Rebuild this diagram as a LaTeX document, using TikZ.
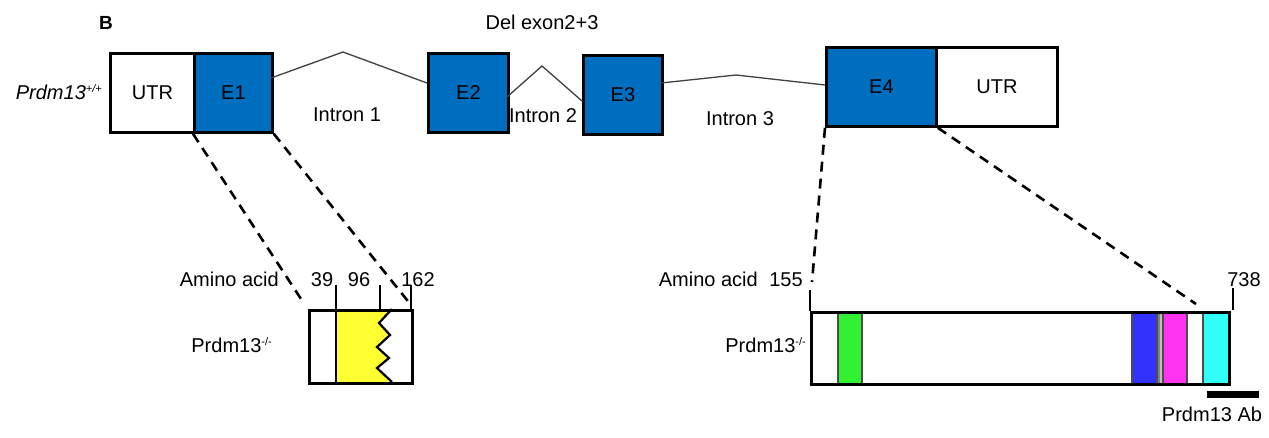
\documentclass[tikz,border=0pt]{standalone}
\usepackage{fontspec}
\setmainfont{Liberation Sans}
\definecolor{exblue}{RGB}{0,110,190}
\definecolor{zfgreen}{RGB}{50,240,50}
\definecolor{zfblue}{RGB}{50,50,255}
\definecolor{zfmag}{RGB}{255,50,240}
\definecolor{zfcyan}{RGB}{50,255,250}
\definecolor{kyellow}{RGB}{255,255,50}
\newcommand{\supsm}[1]{{\fontsize{11}{12}\selectfont\raisebox{7pt}{#1}}}
\begin{document}
\begin{tikzpicture}[x=1pt,y=-1pt,
  box/.style={draw=black, line width=2.8pt, inner sep=0pt, anchor=north west, font=\fontsize{20}{24}\selectfont},
  exon/.style={box, fill=exblue},
  intron/.style={draw=black!75, line width=1.3pt},
  zoomline/.style={line width=2.6pt, dash pattern=on 10pt off 7pt},
  tickmark/.style={line width=2.2pt},
  lbl/.style={font=\fontsize{20}{24}\selectfont, inner sep=0pt, text height=14.3pt, text depth=0pt},
  band/.style={draw=black!70, line width=2pt, inner sep=0pt, anchor=north west, minimum height=72pt}]
\useasboundingbox (0,0) rectangle (1269,437);

% gene structure
\node[box, minimum width=84pt, minimum height=79pt] (utr1) at (109,52) {UTR};
\node[exon, minimum width=78pt, minimum height=79pt] (e1) at (193,52) {E1};
\node[exon, minimum width=80pt, minimum height=79pt] (e2) at (427,52) {E2};
\node[exon, minimum width=79pt, minimum height=79pt] (e3) at (582,54) {E3};
\node[exon, minimum width=110pt, minimum height=79pt] (e4) at (825,46) {E4};
\node[box, minimum width=121pt, minimum height=79pt] (utr2) at (935,46) {UTR};

% introns
\coordinate (i1a) at (271,78); \coordinate (p1) at (343,52); \coordinate (i1b) at (427,83);
\coordinate (i2a) at (507,97); \coordinate (p2) at (542,66); \coordinate (i2b) at (582,101);
\coordinate (i3a) at (661,83); \coordinate (p3) at (736,75); \coordinate (i3b) at (825,85);
\draw[intron] (i1a) -- (p1) -- (i1b);
\draw[intron] (i2a) -- (p2) -- (i2b);
\draw[intron] (i3a) -- (p3) -- (i3b);

% labels top
\node[lbl, font=\fontsize{19}{22}\selectfont\bfseries] (lB) at (106,22) {B};
\node[lbl] (del) at (542,22) {Del exon2+3};
\node[lbl] (in1) at (347,114) {Intron 1};
\node[lbl] (in2) at (543,115) {Intron 2};
\node[lbl] (in3) at (740,118) {Intron 3};
\node[lbl, anchor=east] (wt) at (102,92) {\itshape Prdm13\supsm{+/+}};

% knockout protein left
\fill[kyellow] (336,309) -- (392,309) -- (379,323) -- (390,335) -- (377,347) -- (389,358) -- (377,368) -- (392,382) -- (336,382) -- cycle;
\draw[line width=2.2pt, line join=miter] (392,309) -- (379,323) -- (390,335) -- (377,347) -- (389,358) -- (377,368) -- (392,382);
\draw[line width=2.2pt] (336,309) -- (336,382);
\node[box, line width=2.5pt, minimum width=103pt, minimum height=73pt] (ko1) at (308,309) {};

\coordinate (t39) at (336,285); \coordinate (t96) at (380,285); \coordinate (t162) at (411,285);
\draw[tickmark] (t39) -- (t39 |- ko1.north);
\draw[tickmark] (t96) -- (t96 |- ko1.north);
\draw[tickmark] (t162) -- (t162 |- ko1.north);

\node[lbl, anchor=east] (aa1) at (279,279) {Amino acid};
\node[lbl] (n39) at (322,279) {39};
\node[lbl] (n96) at (359,279) {96};
\node[lbl] (n162) at (418,279) {162};
\node[lbl, anchor=east] (ko1l) at (272,345) {Prdm13\supsm{-/-}};

% knockout protein right
\node[band, fill=zfgreen, minimum width=24pt] (b1) at (837,311) {};
\node[band, fill=zfblue, minimum width=25pt] (b2) at (1131,311) {};
\node[band, fill=black!25, draw=black!50, minimum width=4pt] (b3) at (1158,311) {};
\node[band, fill=zfmag, minimum width=24pt] (b4) at (1162,311) {};
\node[band, fill=zfcyan, minimum width=26pt] (b5) at (1202,311) {};
\node[box, line width=2.5pt, minimum width=418pt, minimum height=72pt] (ko2) at (810,311) {};

\coordinate (t155) at (810,290); \coordinate (t738) at (1233,288); \coordinate (t738b) at (1233,310);
\draw[tickmark] (t155) -- (t155 |- ko2.north);
\draw[tickmark] (t738) -- (t738b);

\node[lbl, anchor=east] (aa2) at (758,279) {Amino acid};
\node[lbl] (n155) at (786,279) {155};
\node[lbl] (n738) at (1244,279) {738};
\node[lbl, anchor=east] (ko2l) at (806,345) {Prdm13\supsm{-/-}};

\node[fill=black, minimum width=52pt, minimum height=7pt, inner sep=0pt, anchor=west] (ab) at (1207,394) {};
\node[lbl] (abl) at (1212,414) {Prdm13 Ab};

% zoom lines
\coordinate (d1) at (303,302); \coordinate (d2) at (411,305);
\coordinate (d3) at (812,282); \coordinate (d4) at (1196,304);
\draw[zoomline] (e1.south west) -- (d1);
\draw[zoomline] (e1.south east) -- (d2);
\draw[zoomline] (e4.south west) -- (d3);
\draw[zoomline] (e4.south east) -- (d4);
\end{tikzpicture}
\end{document}
